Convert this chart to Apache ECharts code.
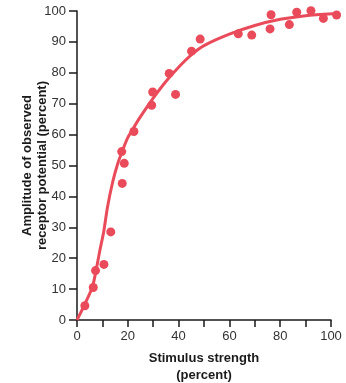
<!DOCTYPE html>
<html>
<head>
<meta charset="utf-8">
<script src="https://cdn.jsdelivr.net/npm/echarts@6/dist/echarts.min.js"></script>
<style>
  html, body { margin: 0; padding: 0; background: #fff; }
  #chart { width: 346px; height: 383px; }
</style>
</head>
<body>
<div id="chart"></div>
<script>
// measured responses
const stimX = [3.1, 6.4, 7.3, 10.6, 13.3, 17.8, 18.6, 17.6, 22.4, 29.4, 29.8, 36.3, 38.8, 45.1, 48.5,
  63.5, 68.8, 76, 76.4, 83.6, 86.5, 92.1, 97, 102.2];
const ampY = [4.6, 10.5, 16, 18, 28.5, 44.2, 50.7, 54.5, 61, 69.5, 73.8, 79.8, 73, 87, 90.9,
  92.6, 92.2, 94.2, 98.8, 95.6, 99.6, 100.1, 97.6, 98.7];

// fitted curve
const fitX = [0, 3, 6, 7.5, 9, 10.5, 12, 14, 16, 18, 20, 22.5, 25, 30, 35, 40, 45, 50, 60, 70, 80, 90, 102];
const fitY = [0, 5, 10.5, 16, 22.5, 28.5, 36.5, 44.5, 50.5, 55, 59, 62.5, 65.8, 71.8, 77.2, 81.8, 85.8, 88.8, 92.5, 95.3, 97.3, 98.5, 99.2];

const red = '#ea4b5a';
const ink = '#1a1a1a';
const font = 'Liberation Sans, Arial, sans-serif';

const chart = echarts.init(document.getElementById('chart'));
chart.setOption({
  animation: false,
  textStyle: { fontFamily: font },
  grid: { left: 77, right: 15, top: 11, bottom: 63, containLabel: false, outerBoundsMode: 'none' },
  xAxis: {
    type: 'value',
    min: 0, max: 100, interval: 10,
    name: 'Stimulus strength\n(percent)',
    nameLocation: 'middle',
    nameGap: 30,
    nameMoveOverlap: false,
    nameTextStyle: { color: ink, fontSize: 13, fontWeight: 'bold', lineHeight: 17, fontFamily: font, verticalAlign: 'top' },
    splitLine: { show: false },
    axisLine: { lineStyle: { color: ink, width: 1.5 } },
    axisTick: { length: 7, lineStyle: { color: ink, width: 1.5 } },
    axisLabel: {
      color: '#333', fontSize: 13, margin: 10, fontFamily: font,
      formatter(v) { return v % 20 === 0 ? String(v) : ''; }
    }
  },
  yAxis: {
    type: 'value',
    min: 0, max: 100, interval: 10,
    name: 'Amplitude of observed\nreceptor potential (percent)',
    nameLocation: 'middle',
    nameGap: 27,
    nameMoveOverlap: false,
    nameTextStyle: { color: ink, fontSize: 13, fontWeight: 'bold', lineHeight: 15, fontFamily: font },
    splitLine: { show: false },
    axisLine: { show: true, lineStyle: { color: ink, width: 1.5 } },
    axisTick: { show: true, length: 8, lineStyle: { color: ink, width: 1.5 } },
    axisLabel: { color: '#333', fontSize: 13, margin: 11, fontFamily: font }
  },
  series: [
    {
      type: 'line',
      data: fitX.map((x, i) => [x, fitY[i]]),
      smooth: 0.25,
      showSymbol: false,
      clip: false,
      lineStyle: { color: red, width: 3 },
      z: 2
    },
    {
      type: 'scatter',
      data: stimX.map((x, i) => [x, ampY[i]]),
      symbolSize: 9,
      clip: false,
      itemStyle: { color: red, opacity: 1 },
      z: 3
    }
  ]
});
</script>
</body>
</html>
